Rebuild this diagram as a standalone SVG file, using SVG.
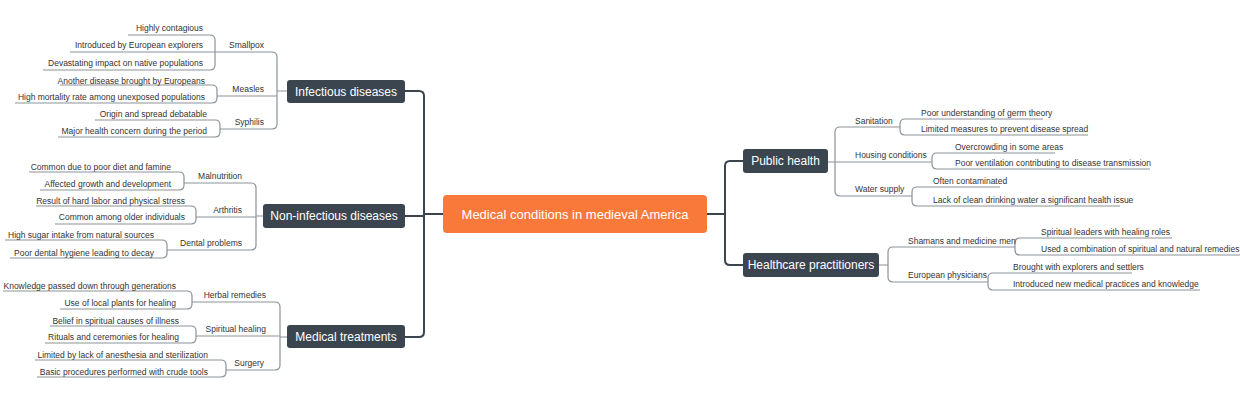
<svg xmlns="http://www.w3.org/2000/svg" width="1240" height="400" viewBox="0 0 1240 400">
<style>
.m{fill:#3B4550}
.mt{fill:#fff;font:12px "Liberation Sans",Arial,sans-serif;text-anchor:middle}
.t{fill:#333;font:8.5px "Liberation Sans",Arial,sans-serif}
.l{text-anchor:end}
.e{fill:none;stroke:#8C9399;stroke-width:1.2}
.c{fill:none;stroke:#3B4550;stroke-width:2}
</style>
<rect width="1240" height="400" fill="#fff"/>
<g id="connectors">
<path class="c" d="M443,214H424 M424,214V96Q424,91 419,91H405 M424,214V216H405 M424,214V332Q424,337 419,337H405 M707,214H725 M725,214V166Q725,161 730,161H743 M725,214V260Q725,265 730,265H743"/>
<path class="e" d="M287,91H277 M277,91V57Q277,52 272,52H215 M277,91V96H217 M277,91V124Q277,129 272,129H220
M215,52V40Q215,35 210,35H128 M215,52H70 M215,52V65Q215,70 210,70H43
M217,96V90Q217,85 212,85H60 M217,96V98Q217,103 212,103H15
M220,129V125Q220,120 215,120H95 M220,129V132Q220,137 215,137H58
M263,216H256 M256,216V188Q256,183 251,183H184 M256,216V217H196 M256,216V245Q256,250 251,250H167
M184,183V177Q184,172 179,172H29 M184,183V185Q184,190 179,190H40
M196,217V211Q196,206 191,206H36 M196,217V219Q196,224 191,224H55
M167,250V245Q167,240 162,240H5 M167,250V253Q167,258 162,258H10
M287,337H280 M280,337V307Q280,302 275,302H192 M280,337V336H196 M280,337V365Q280,370 275,370H226
M192,302V296Q192,291 187,291H3 M192,302V304Q192,309 187,309H60
M196,336V331Q196,326 191,326H50 M196,336V338Q196,343 191,343H45
M226,370V365Q226,360 221,360H35 M226,370V372Q226,377 221,377H37
M828,162H835 M835,162V132Q835,127 840,127H900 M835,162H932 M835,162V191Q835,196 840,196H912
M900,127V124Q900,119 905,119H1043 M900,127V130Q900,135 905,135H1088
M932,162V158Q932,153 937,153H1055 M932,162V164Q932,169 937,169H1150
M912,196V192Q912,187 917,187H1000 M912,196V201Q912,206 917,206H1120
M879,265H888 M888,265V252Q888,247 893,247H1015 M888,265V277Q888,282 893,282H988
M1015,247V243Q1015,238 1020,238H1172 M1015,247V250Q1015,255 1020,255H1240
M988,282V278Q988,273 993,273H1132 M988,282V285Q988,290 993,290H1200"/>
</g>
<g id="root"><rect x="443" y="195" width="264" height="38" rx="4" fill="#F9793A"/><text class="mt" x="575" y="219" style="font-size:13px">Medical conditions in medieval America</text></g>
<g id="n-infectious"><rect class="m" x="287" y="80" width="118" height="23" rx="3"/><text class="mt" x="346" y="96">Infectious diseases</text></g>
<g id="n-noninfectious"><rect class="m" x="263" y="204" width="142" height="24" rx="3"/><text class="mt" x="334" y="220">Non-infectious diseases</text></g>
<g id="n-treatments"><rect class="m" x="287" y="325" width="118" height="23" rx="3"/><text class="mt" x="346" y="341">Medical treatments</text></g>
<g id="n-public"><rect class="m" x="743" y="149" width="85" height="24" rx="3"/><text class="mt" x="785.5" y="165">Public health</text></g>
<g id="n-practitioners"><rect class="m" x="743" y="253" width="136" height="24" rx="3"/><text class="mt" x="811" y="269">Healthcare practitioners</text></g>
<g id="labels-left">
<text class="t l" x="264" y="48">Smallpox</text>
<text class="t l" x="203" y="31">Highly contagious</text>
<text class="t l" x="203" y="48">Introduced by European explorers</text>
<text class="t l" x="203" y="66">Devastating impact on native populations</text>
<text class="t l" x="264" y="92">Measles</text>
<text class="t l" x="205" y="84">Another disease brought by Europeans</text>
<text class="t l" x="205" y="100">High mortality rate among unexposed populations</text>
<text class="t l" x="264" y="125">Syphilis</text>
<text class="t l" x="207" y="117">Origin and spread debatable</text>
<text class="t l" x="207" y="134">Major health concern during the period</text>
<text class="t l" x="242" y="179">Malnutrition</text>
<text class="t l" x="171" y="170">Common due to poor diet and famine</text>
<text class="t l" x="171" y="187">Affected growth and development</text>
<text class="t l" x="242" y="213">Arthritis</text>
<text class="t l" x="185" y="204">Result of hard labor and physical stress</text>
<text class="t l" x="185" y="220">Common among older individuals</text>
<text class="t l" x="242" y="246">Dental problems</text>
<text class="t l" x="154" y="238">High sugar intake from natural sources</text>
<text class="t l" x="154" y="256">Poor dental hygiene leading to decay</text>
<text class="t l" x="266" y="298">Herbal remedies</text>
<text class="t l" x="176" y="289">Knowledge passed down through generations</text>
<text class="t l" x="176" y="306">Use of local plants for healing</text>
<text class="t l" x="266" y="332">Spiritual healing</text>
<text class="t l" x="179" y="324">Belief in spiritual causes of illness</text>
<text class="t l" x="179" y="340">Rituals and ceremonies for healing</text>
<text class="t l" x="264" y="366">Surgery</text>
<text class="t l" x="208" y="358">Limited by lack of anesthesia and sterilization</text>
<text class="t l" x="208" y="375">Basic procedures performed with crude tools</text>
</g>
<g id="labels-right">
<text class="t" x="855" y="124">Sanitation</text>
<text class="t" x="921" y="116">Poor understanding of germ theory</text>
<text class="t" x="921" y="132">Limited measures to prevent disease spread</text>
<text class="t" x="855" y="158">Housing conditions</text>
<text class="t" x="955" y="150">Overcrowding in some areas</text>
<text class="t" x="955" y="166">Poor ventilation contributing to disease transmission</text>
<text class="t" x="855" y="192">Water supply</text>
<text class="t" x="933" y="184">Often contaminated</text>
<text class="t" x="933" y="203">Lack of clean drinking water a significant health issue</text>
<text class="t" x="908" y="244">Shamans and medicine men</text>
<text class="t" x="1041" y="235">Spiritual leaders with healing roles</text>
<text class="t" x="1041" y="252">Used a combination of spiritual and natural remedies</text>
<text class="t" x="908" y="278">European physicians</text>
<text class="t" x="1013" y="270">Brought with explorers and settlers</text>
<text class="t" x="1013" y="287">Introduced new medical practices and knowledge</text>
</g>
</svg>
